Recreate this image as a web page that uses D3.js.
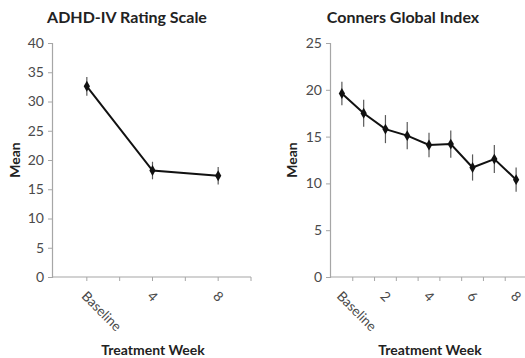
<!DOCTYPE html>
<html><head><meta charset="utf-8">
<script src="https://cdn.jsdelivr.net/npm/d3@7"></script>
<style>
html,body{margin:0;padding:0;background:#fff;}
svg{display:block;font-family:Lato,"Open Sans",sans-serif;}
</style></head>
<body>
<svg id="c" width="525" height="358"></svg>
<script>
// ---- data ----
const adhdWeeks = ["Baseline", "4", "8"];
const adhdMeans = [32.6, 18.2, 17.3];
const adhdErr = [1.6, 1.5, 1.5];
const adhdYTicks = [0, 5, 10, 15, 20, 25, 30, 35, 40];

const connersWeeks = ["Baseline", "1", "2", "3", "4", "5", "6", "7", "8"];
const connersMeans = [19.6, 17.5, 15.8, 15.1, 14.1, 14.2, 11.7, 12.6, 10.4];
const connersErr = [1.25, 1.45, 1.5, 1.45, 1.3, 1.45, 1.4, 1.5, 1.3];
const connersLabels = ["Baseline", "2", "4", "6", "8"];
const connersYTicks = [0, 5, 10, 15, 20, 25];

const titles = ["ADHD-IV Rating Scale", "Conners Global Index"];
const xTitle = "Treatment Week";
const yTitle = "Mean";

const svg = d3.select("#c");
const axisCol = "#a6a6a6";
const textCol = "#4a4a4a";

function panel(o) {
  const g = svg.append("g");
  const x = d3.scaleBand().domain(o.cats).range([o.x0, o.x1]).paddingInner(0).paddingOuter(0);
  const y = d3.scaleLinear().domain([0, o.ymax]).range([277, 43]);
  const cx = c => x(c) + x.bandwidth() / 2;

  // y axis
  const ya = g.append("g").attr("transform", `translate(${o.yx},0)`)
    .call(d3.axisLeft(y).tickValues(o.yticks).tickSize(4).tickPadding(4));
  ya.select(".domain").attr("stroke", axisCol).attr("stroke-width", 1.2);
  ya.selectAll(".tick line").attr("stroke", axisCol);
  ya.selectAll(".tick text").attr("fill", textCol).style("font-size", "14px").style("font-family", "Lato,'Open Sans',sans-serif");

  // x axis line
  g.append("line").attr("x1", o.yx).attr("x2", o.x1).attr("y1", y(0)).attr("y2", y(0))
    .attr("stroke", axisCol).attr("stroke-width", 1.2);
  // tick marks
  const tickPos = [];
  o.cats.forEach((c, i) => {
    tickPos.push(x(c) + x.bandwidth());
    if (o.centerTicks) tickPos.push(cx(c));
  });
  g.selectAll(".xt").data(tickPos).join("line")
    .attr("x1", d => d).attr("x2", d => d).attr("y1", y(0)).attr("y2", y(0) + 4)
    .attr("stroke", axisCol);

  // x labels
  g.selectAll(".xl").data(o.labels).join("text")
    .attr("transform", d => `translate(${cx(d) - 6},${y(0) + 20}) rotate(45)`)
    .attr("fill", textCol).style("font-size", "13.5px")
    .text(d => d);

  // error bars
  g.selectAll(".eb").data(o.cats).join("line")
    .attr("x1", c => cx(c)).attr("x2", c => cx(c))
    .attr("y1", (c, i) => y(o.means[i] + o.err[i]))
    .attr("y2", (c, i) => y(o.means[i] - o.err[i]))
    .attr("stroke", "#5a5a5a").attr("stroke-width", 1.2);

  // line
  const line = d3.line().x((d, i) => cx(o.cats[i])).y(d => y(d));
  g.append("path").datum(o.means).attr("d", line)
    .attr("fill", "none").attr("stroke", "#111").attr("stroke-width", 2);
  g.selectAll(".pt").data(o.means).join("path")
    .attr("d", d3.symbol(d3.symbolDiamond, 34))
    .attr("transform", (d, i) => `translate(${cx(o.cats[i])},${y(d)})`)
    .attr("fill", "#111");

  // titles
  g.append("text").attr("x", o.tx).attr("y", 23).attr("text-anchor", "middle")
    .style("font-size", "16px").style("font-weight", "bold").attr("fill", "#222").text(o.title);
  g.append("text").attr("x", o.xtx).attr("y", 355).attr("text-anchor", "middle")
    .style("font-size", "14px").style("font-weight", "bold").attr("fill", "#222").text(xTitle);
  g.append("text").attr("transform", `translate(${o.ytx},160) rotate(-90)`).attr("text-anchor", "middle")
    .style("font-size", "14px").style("font-weight", "bold").attr("fill", "#222").text(yTitle);
}

panel({cats: adhdWeeks, means: adhdMeans, err: adhdErr, labels: adhdWeeks, ymax: 40, yticks: adhdYTicks,
  x0: 54, x1: 251, yx: 52, centerTicks: true, title: titles[0], tx: 127, xtx: 153, ytx: 20});
panel({cats: connersWeeks, means: connersMeans, err: connersErr, labels: connersLabels, ymax: 25, yticks: connersYTicks,
  x0: 331, x1: 527, yx: 330, centerTicks: false, title: titles[1], tx: 403, xtx: 430, ytx: 297});
</script>
</body></html>
